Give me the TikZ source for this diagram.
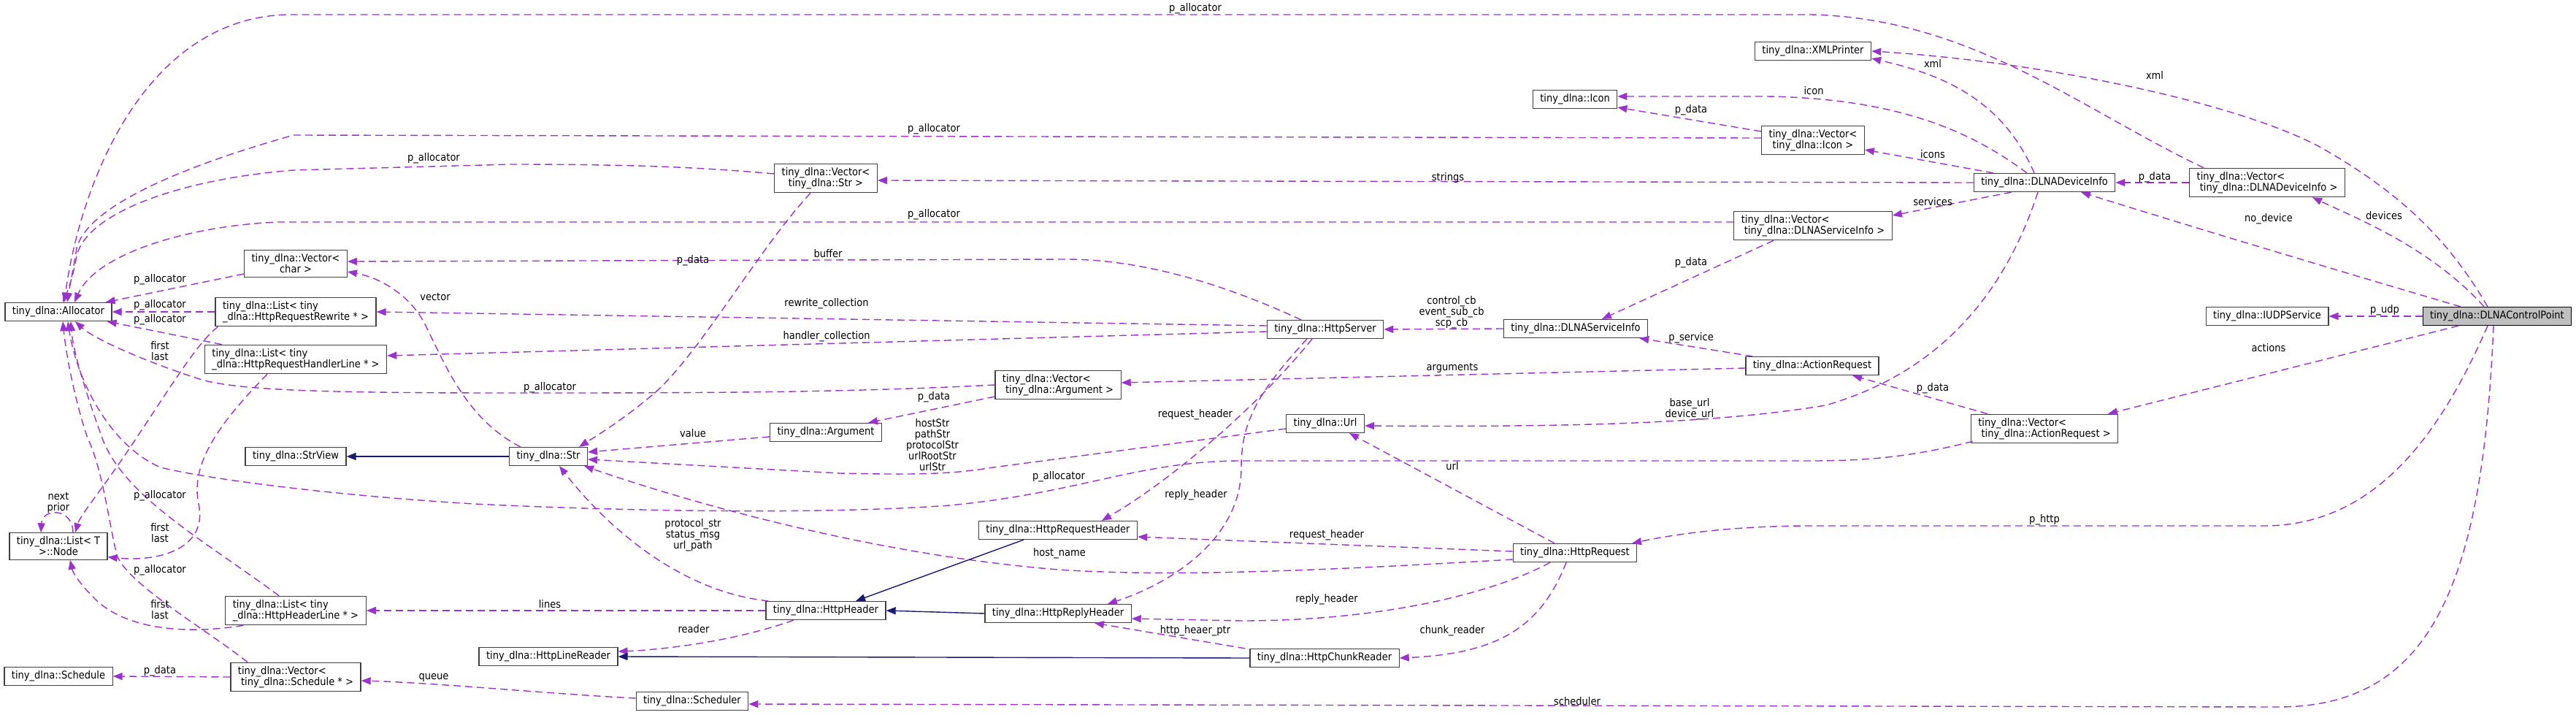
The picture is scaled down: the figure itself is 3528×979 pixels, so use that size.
\documentclass[tikz,border=0pt]{standalone}
\usepackage{fontspec}
\setmainfont{DejaVu Sans}[FakeStretch=0.9]
\usetikzlibrary{arrows.meta}
\definecolor{usecol}{HTML}{9A32CD}
\definecolor{inhcol}{HTML}{191970}
\definecolor{boxcol}{HTML}{404040}
\definecolor{cpfill}{HTML}{BFBFBF}
\newcommand{\dxfont}{\fontsize{14.5pt}{15pt}\selectfont}

\begin{document}
\begin{tikzpicture}[x=1pt, y=-1pt,
    box/.style={rectangle, draw=boxcol, line width=1.2pt, fill=white, font=\dxfont,
                inner xsep=10pt, inner ysep=5pt, minimum height=25pt},
    boxl/.style={box, align=left},
    boxc/.style={box, align=center},
    lbl/.style={font=\dxfont, inner sep=0pt, align=center},
    arr/.style={usecol, line width=1.4pt, dash pattern=on 10pt off 6pt,
                -{Triangle[length=13pt, width=10pt]}},
    inh/.style={inhcol, line width=1.4pt, -{Triangle[length=13pt, width=10pt]}},
]
\useasboundingbox (0,0) rectangle (3528,979);

\node[box]  (alloc)       at (80,427)   {tiny\_dlna::Allocator};
\node[boxc] (vchar)       at (405,361)  {tiny\_dlna::Vector<\\char >};
\node[boxl] (lrewrite)    at (405,427)  {tiny\_dlna::List< tiny\\\_dlna::HttpRequestRewrite * >};
\node[boxl] (lhandler)    at (405,492)  {tiny\_dlna::List< tiny\\\_dlna::HttpRequestHandlerLine * >};
\node[boxc] (lnode)       at (80,748)   {tiny\_dlna::List< T\\>::Node};
\node[box]  (strview)     at (405,625)  {tiny\_dlna::StrView};
\node[boxl] (lheader)     at (405,836)  {tiny\_dlna::List< tiny\\\_dlna::HttpHeaderLine * >};
\node[box]  (sched)       at (80,926)   {tiny\_dlna::Schedule};
\node[boxl] (vsched)      at (405,927)  {tiny\_dlna::Vector<\\\ tiny\_dlna::Schedule * >};
\node[box]  (str)         at (751,625)  {tiny\_dlna::Str};
\node[box]  (linereader)  at (751,899)  {tiny\_dlna::HttpLineReader};
\node[box]  (scheduler)   at (948,960)  {tiny\_dlna::Scheduler};
\node[boxc] (vstr)        at (1131,244) {tiny\_dlna::Vector<\\tiny\_dlna::Str >};
\node[box]  (arg)         at (1131,592) {tiny\_dlna::Argument};
\node[box]  (header)      at (1131,836) {tiny\_dlna::HttpHeader};
\node[boxl] (varg)        at (1449,527) {tiny\_dlna::Vector<\\\ tiny\_dlna::Argument >};
\node[box]  (reqheader)   at (1449,726) {tiny\_dlna::HttpRequestHeader};
\node[box]  (replyheader) at (1449,840) {tiny\_dlna::HttpReplyHeader};
\node[box]  (server)      at (1815,451) {tiny\_dlna::HttpServer};
\node[box]  (url)         at (1815,580) {tiny\_dlna::Url};
\node[box]  (chunkreader) at (1814,901) {tiny\_dlna::HttpChunkReader};
\node[box]  (icon)        at (2157,136) {tiny\_dlna::Icon};
\node[box]  (servinfo)    at (2158,450) {tiny\_dlna::DLNAServiceInfo};
\node[box]  (request)     at (2157,757) {tiny\_dlna::HttpRequest};
\node[box]  (xmlp)        at (2483,70)  {tiny\_dlna::XMLPrinter};
\node[boxc] (vicon)       at (2483,192) {tiny\_dlna::Vector<\\tiny\_dlna::Icon >};
\node[boxl] (vservice)    at (2483,309) {tiny\_dlna::Vector<\\\ tiny\_dlna::DLNAServiceInfo >};
\node[box]  (actreq)      at (2482,501) {tiny\_dlna::ActionRequest};
\node[box]  (devinfo)     at (2800,250) {tiny\_dlna::DLNADeviceInfo};
\node[boxl] (vactreq)     at (2800,587) {tiny\_dlna::Vector<\\\ tiny\_dlna::ActionRequest >};
\node[boxl] (vdevinfo)    at (3105,250) {tiny\_dlna::Vector<\\\ tiny\_dlna::DLNADeviceInfo >};
\node[box]  (udp)         at (3105,433) {tiny\_dlna::IUDPService};
\node[box, fill=cpfill, draw=black] (cp) at (3420,433) {tiny\_dlna::DLNAControlPoint};

% allocator edges
\draw[arr] ([xshift=-87pt]vdevinfo.north) .. controls (2850,150) and (2700,25) .. (2480,20) -- (400,20) .. controls (200,20) and (110,250) .. ([xshift=8pt]alloc.north);
\draw[arr] ([yshift=3pt]vicon.west) -- (402,185) .. controls (260,225) and (120,280) .. (105,340) .. controls (100,370) and (95,395) .. ([xshift=12pt]alloc.north);
\draw[arr] ([yshift=6pt]vstr.west) .. controls (950,228) and (850,225) .. (700,225) -- (402,233) .. controls (250,245) and (120,290) .. (105,350) .. controls (100,380) and (92,400) .. ([xshift=6pt]alloc.north);
\draw[arr] ([yshift=5pt]vservice.west) -- (380,304) .. controls (250,310) and (130,350) .. ([xshift=22pt]alloc.north);
\draw[arr] ([yshift=-14pt]vchar.west) -- ([xshift=-9pt]alloc.north east);
\draw[arr] (lrewrite.west) -- (alloc.east);
\draw[arr] ([xshift=24pt]lhandler.north west) -- ([xshift=-7pt]alloc.south east);
\draw[arr] (varg.west) .. controls (1150,538) and (950,538) .. (700,538) .. controls (450,538) and (320,535) .. (270,518) .. controls (200,495) and (130,465) .. ([xshift=23pt]alloc.south);
\draw[arr] ([xshift=3pt,yshift=3pt]vactreq.south west) .. controls (2620,625) and (2560,631) .. (2480,631) -- (1700,631) .. controls (1560,631) and (1480,675) .. (1300,692) .. controls (1150,703) and (900,702) .. (650,690) .. controls (450,678) and (280,655) .. (220,640) .. controls (150,610) and (105,520) .. ([xshift=13pt]alloc.south);
\draw[arr] ([xshift=-23pt]lheader.north) .. controls (280,740) and (170,680) .. (140,600) .. controls (115,530) and (100,480) .. ([xshift=17pt]alloc.south);
\draw[arr] ([xshift=-66pt]vsched.north) .. controls (280,860) and (175,800) .. (160,760) .. controls (150,720) and (140,640) .. (120,600) .. controls (100,540) and (90,480) .. ([xshift=6pt]alloc.south);

% list nodes
\draw[arr] ([xshift=4pt]lrewrite.south west) .. controls (270,470) and (240,520) .. (180,610) .. controls (140,670) and (110,705) .. ([xshift=23pt]lnode.north);
\draw[arr] ([xshift=-39pt]lhandler.south) .. controls (290,590) and (262,640) .. (272,690) .. controls (285,750) and (220,770) .. ([yshift=4pt]lnode.south east);
\draw[arr] ([xshift=25pt]lheader.south west) .. controls (250,870) and (170,860) .. (130,820) .. controls (110,800) and (100,785) .. ([xshift=16pt]lnode.south);
\draw[arr] ([xshift=20pt]lnode.north) .. controls (100,695) and (58,695) .. ([xshift=-24pt]lnode.north);

\draw[arr] (vsched.west) -- (sched.east);
\draw[arr] ([yshift=4pt]scheduler.west) .. controls (750,950) and (600,935) .. ([yshift=-5pt]vsched.east);
\draw[inh] (str.west) -- (strview.east);
\draw[arr] ([xshift=16pt]str.north west) .. controls (640,575) and (610,500) .. (585,450) .. controls (565,405) and (520,380) .. ([yshift=-11pt]vchar.east);
\draw[arr] ([xshift=-33pt]server.north) .. controls (1700,400) and (1580,355) .. (1460,355) -- ([yshift=3pt]vchar.east);
\draw[arr] ([yshift=5pt]server.west) -- (lrewrite.east);
\draw[arr] ([yshift=-3pt]server.west) -- ([yshift=5pt]lhandler.east);
\draw[arr] (devinfo.west) -- ([yshift=-3pt]vstr.east);
\draw[arr] ([xshift=-21pt]vstr.south) .. controls (1040,340) and (960,480) .. (900,535) .. controls (860,570) and (820,595) .. ([xshift=-12pt]str.north east);
\draw[arr] ([yshift=-6pt]arg.west) -- ([yshift=6pt]str.east);
\draw[arr] ([yshift=-7pt]url.west) -- (1360,640) .. controls (1300,650) and (1250,650) .. (1150,648) -- ([yshift=-4pt]str.east);
\draw[arr] ([xshift=4pt]header.north west) .. controls (930,810) and (830,720) .. ([xshift=15pt]str.south);
\draw[arr] ([yshift=-9pt]request.west) .. controls (1800,782) and (1600,790) .. (1450,780) .. controls (1200,760) and (950,690) .. ([xshift=-5pt]str.south east);
\draw[arr] (header.west) -- (lheader.east);
\draw[arr] ([xshift=-44pt]header.south) .. controls (1000,880) and (900,890) .. ([yshift=7pt]linereader.east);
\draw[inh] (chunkreader.west) -- (linereader.east);
\draw[inh] ([xshift=62pt]reqheader.south west) -- ([xshift=41pt]header.north);
\draw[inh] (replyheader.west) -- (header.east);

% http
\draw[arr] ([xshift=-18pt]server.south) .. controls (1720,560) and (1600,660) .. ([xshift=60pt]reqheader.north);
\draw[arr] ([xshift=-25pt]server.south) .. controls (1720,540) and (1700,580) .. (1700,640) .. controls (1700,740) and (1600,800) .. ([xshift=68pt]replyheader.north);
\draw[arr] ([yshift=2pt]request.west) -- ([yshift=-9pt]reqheader.east);
\draw[arr] ([xshift=-34pt]request.south) .. controls (2050,810) and (1900,850) .. (1700,850) -- ([yshift=-7pt]replyheader.east);
\draw[arr] ([xshift=-12pt]request.south) .. controls (2110,860) and (2050,895) .. (chunkreader.east);
\draw[arr] ([xshift=-6pt]chunkreader.north west) -- ([xshift=50pt]replyheader.south);
\draw[arr] ([xshift=-28pt]request.north) -- ([xshift=33pt]url.south);

% device info
\draw[arr] ([xshift=-9pt]devinfo.south) .. controls (2740,420) and (2640,515) .. (2500,555) .. controls (2350,580) and (2150,585) .. ([yshift=-3pt]url.east);
\draw[arr] ([xshift=-14pt]devinfo.north) .. controls (2740,130) and (2650,100) .. ([yshift=-10pt]xmlp.east);
\draw[arr] ([xshift=-13pt]cp.north) .. controls (3360,340) and (3300,270) .. (3175,200) .. controls (3060,140) and (2800,85) .. (xmlp.east);
\draw[arr] ([xshift=-24pt]devinfo.north) .. controls (2700,180) and (2600,135) .. (2420,132) -- ([yshift=4pt]icon.east);
\draw[arr] ([yshift=12pt]vicon.west) -- ([yshift=-11pt]icon.east);
\draw[arr] ([xshift=-70pt]devinfo.north) -- ([yshift=-13pt]vicon.east);
\draw[arr] ([xshift=-45pt]devinfo.south) -- ([yshift=14pt]vservice.east);
\draw[arr] ([xshift=-54pt]vservice.south) -- ([xshift=36pt]servinfo.north);
\draw[arr] (servinfo.west) -- (server.east);
\draw[arr] ([xshift=10pt]actreq.north west) -- ([xshift=-12pt]servinfo.south east);
\draw[arr] ([yshift=-3pt]actreq.west) -- ([yshift=3pt]varg.east);
\draw[arr] ([yshift=-16pt]varg.west) -- ([xshift=-19pt]arg.north east);
\draw[arr] ([xshift=-78pt]vactreq.north) -- ([xshift=55pt]actreq.south);
\draw[arr] (vdevinfo.west) -- (devinfo.east);

% control point
\draw[arr] ([xshift=-18pt]cp.north) .. controls (3330,340) and (3230,300) .. ([xshift=62pt]vdevinfo.south);
\draw[arr] ([xshift=-50pt]cp.north) .. controls (3200,370) and (3000,310) .. ([xshift=50pt]devinfo.south);
\draw[arr] (cp.west) -- (udp.east);
\draw[arr] ([xshift=-53pt]cp.south) -- ([xshift=87pt]vactreq.north);
\draw[arr] ([xshift=-13pt]cp.south) .. controls (3340,600) and (3250,720) .. (3100,720) -- (2480,720) .. controls (2380,720) and (2300,730) .. ([xshift=78pt]request.north);
\draw[arr] ([xshift=-5pt]cp.south) .. controls (3400,800) and (3330,968) .. (3120,968) -- ([yshift=-4pt]scheduler.east);

% labels
\node[lbl] (l01) at (1637,12)  {p\_allocator};
\node[lbl] (l02) at (1279,177) {p\_allocator};
\node[lbl] (l03) at (594,217)  {p\_allocator};
\node[lbl] (l04) at (1279,294) {p\_allocator};
\node[lbl] (l05) at (219,383)  {p\_allocator};
\node[lbl] (l06) at (219,418)  {p\_allocator};
\node[lbl] (l07) at (219,438)  {p\_allocator};
\node[lbl] (l08) at (219,481)  {first\\last};
\node[lbl] (l09) at (753,531)  {p\_allocator};
\node[lbl] (l10) at (1450,653) {p\_allocator};
\node[lbl] (l11) at (219,679)  {p\_allocator};
\node[lbl] (l12) at (219,730)  {first\\last};
\node[lbl] (l13) at (80,688)   {next\\prior};
\node[lbl] (l14) at (219,781)  {p\_allocator};
\node[lbl] (l15) at (219,835)  {first\\last};
\node[lbl] (l16) at (219,919)  {p\_data};
\node[lbl] (l17) at (594,928)  {queue};
\node[lbl] (l18) at (596,407)  {vector};
\node[lbl] (l19) at (1134,347) {buffer};
\node[lbl] (l20) at (1132,416) {rewrite\_collection};
\node[lbl] (l21) at (1132,461) {handler\_collection};
\node[lbl] (l22) at (1983,243) {strings};
\node[lbl] (l23) at (949,357)  {p\_data};
\node[lbl] (l24) at (949,593)  {value};
\node[lbl] (l25) at (1277,609) {hostStr\\pathStr\\protocolStr\\urlRootStr\\urlStr};
\node[lbl] (l26) at (949,733)  {protocol\_str\\status\_msg\\url\_path};
\node[lbl] (l27) at (1451,758) {host\_name};
\node[lbl] (l28) at (753,827)  {lines};
\node[lbl] (l29) at (950,861)  {reader};
\node[lbl] (l30) at (1637,568) {request\_header};
\node[lbl] (l31) at (1638,678) {reply\_header};
\node[lbl] (l32) at (1817,733) {request\_header};
\node[lbl] (l33) at (1817,821) {reply\_header};
\node[lbl] (l34) at (1989,864) {chunk\_reader};
\node[lbl] (l35) at (1637,864) {http\_heaer\_ptr};
\node[lbl] (l36) at (1989,638) {url};
\node[lbl] (l37) at (2314,560) {base\_url\\device\_url};
\node[lbl] (l38) at (2647,87)  {xml};
\node[lbl] (l39) at (2951,103) {xml};
\node[lbl] (l40) at (2484,124) {icon};
\node[lbl] (l41) at (2316,151) {p\_data};
\node[lbl] (l42) at (2647,211) {icons};
\node[lbl] (l43) at (2647,276) {services};
\node[lbl] (l44) at (2316,360) {p\_data};
\node[lbl] (l45) at (1988,428) {control\_cb\\event\_sub\_cb\\scp\_cb};
\node[lbl] (l46) at (2316,463) {p\_service};
\node[lbl] (l47) at (1989,504) {arguments};
\node[lbl] (l48) at (2647,532) {p\_data};
\node[lbl] (l49) at (2951,243) {p\_data};
\node[lbl] (l50) at (3265,295) {devices};
\node[lbl] (l51) at (3107,300) {no\_device};
\node[lbl] (l52) at (3266,425) {p\_udp};
\node[lbl] (l53) at (3107,476) {actions};
\node[lbl] (l54) at (2800,712) {p\_http};
\node[lbl] (l55) at (2160,960) {scheduler};
\node[lbl] (l56) at (1279,544) {p\_data};
\end{tikzpicture}
\end{document}
